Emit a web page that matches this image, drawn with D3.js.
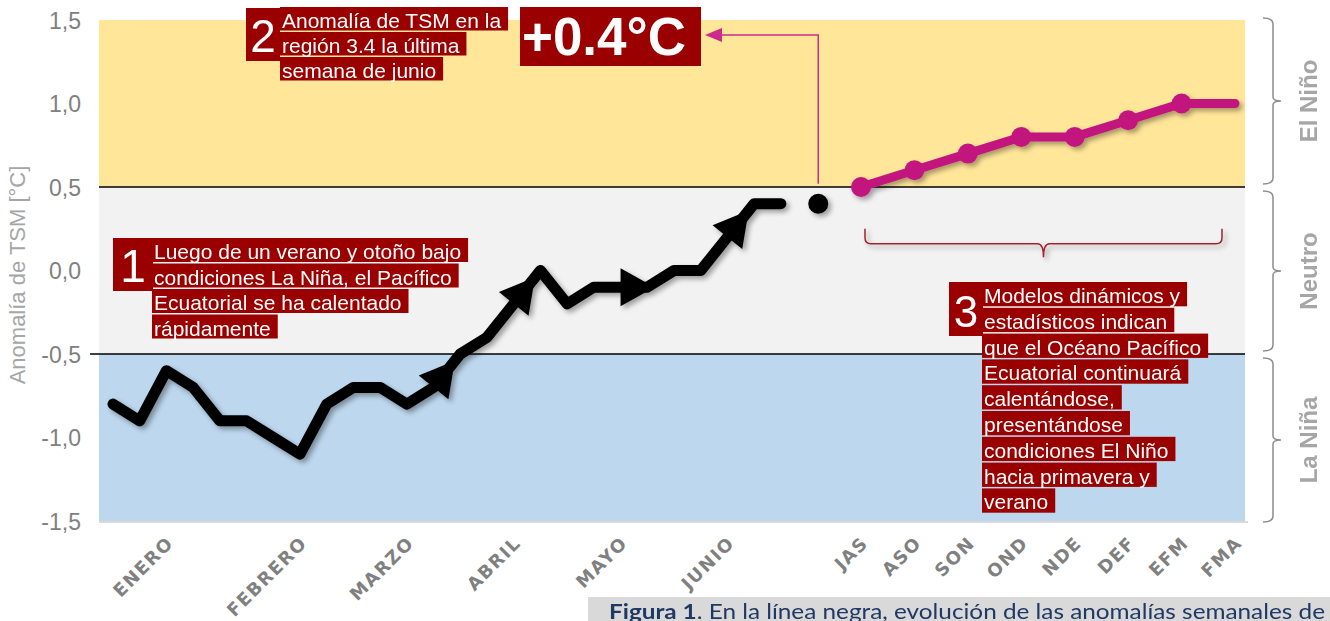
<!DOCTYPE html>
<html><head><meta charset="utf-8">
<script src="https://cdn.jsdelivr.net/npm/d3@7"></script>
<style>body{margin:0;background:#fff}svg{display:block}</style>
</head><body><svg id="c" width="1330" height="621"></svg>
<script>
// ---- data ----
const weeklyAnom = [-0.8,-0.9,-0.6,-0.7,-0.9,-0.9,-1.0,-1.1,-0.8,-0.7,-0.7,-0.8,-0.7,-0.5,-0.4,-0.2,0.0,-0.2,-0.1,-0.1,-0.1,0.0,0.0,0.2,0.4,0.4];
const arrowWeeks = [12,15,19,23];
const lastWeekPos = 26.4, lastWeekValue = 0.4;
const monthLabels = ["ENERO","FEBRERO","MARZO","ABRIL","MAYO","JUNIO"];
const monthWeeks = [2,7,11,15,19,23];
const forecastLabels = ["JAS","ASO","SON","OND","NDE","DEF","EFM","FMA"];
const forecastWeeks = [28,30,32,34,36,38,40,42];
const forecastValues = [0.5,0.6,0.7,0.8,0.8,0.9,1.0,1.0];
const yTicks = [1.5,1.0,0.5,0.0,-0.5,-1.0,-1.5];
const bands = [{lo:0.5,hi:1.5,c:"#FFE699",label:"El Niño"},{lo:-0.5,hi:0.5,c:"#F2F2F2",label:"Neutro"},{lo:-1.5,hi:-0.5,c:"#BDD7EE",label:"La Niña"}];
const note1 = ["Luego de un verano y otoño bajo","condiciones La Niña, el Pacífico","Ecuatorial se ha calentado","rápidamente"];
const note2 = ["Anomalía de TSM en la","región 3.4 la última","semana de junio"];
const note3 = ["Modelos dinámicos y","estadísticos indican","que el Océano Pacífico","Ecuatorial continuará","calentándose,","presentándose","condiciones El Niño","hacia primavera y","verano"];
const bigValue = "+0.4°C";

// ---- scales ----
const svg = d3.select("#c");
const x = d3.scaleLinear().domain([0,42]).range([113,1235]);
const y = d3.scaleLinear().domain([-1.5,1.5]).range([521,20]);
const plotL = 99, plotR = 1245;
const RED = "#9B0000", MAG = "#C2177E", GRAY = "#808080";
const SANS = "'Liberation Sans', Arial, Helvetica, sans-serif";

const defs = svg.append("defs");
const f = defs.append("filter").attr("id","sh").attr("x","-20%").attr("y","-20%").attr("width","140%").attr("height","140%");
f.append("feDropShadow").attr("dx",3).attr("dy",3).attr("stdDeviation",2.5).attr("flood-color","#000").attr("flood-opacity",0.35);

// bands
svg.selectAll("rect.band").data(bands).join("rect").attr("class","band")
  .attr("x",plotL).attr("width",plotR-plotL)
  .attr("y",d=>y(d.hi)).attr("height",d=>y(d.lo)-y(d.hi)).attr("fill",d=>d.c);
svg.append("line").attr("x1",plotL).attr("x2",plotR+3).attr("y1",y(-1.5)+1).attr("y2",y(-1.5)+1).attr("stroke","#D9D9D9").attr("stroke-width",2);
svg.selectAll("line.thr").data([0.5,-0.5]).join("line").attr("class","thr")
  .attr("x1",d=>d<0?90:plotL).attr("x2",plotR).attr("y1",d=>y(d)).attr("y2",d=>y(d))
  .attr("stroke","#000").attr("stroke-width",1.5);

// y ticks
const yAxis = d3.axisLeft(y).tickValues(yTicks).tickSize(0).tickFormat(d=>d3.format(".1f")(d).replace(".",",").replace("−","-"));
const ga = svg.append("g").attr("transform","translate(81,0)").call(yAxis);
ga.select(".domain").remove();
ga.selectAll("text").attr("x",0).attr("dy","0.36em").attr("fill",GRAY).style("font-family",SANS).style("font-size","23px");
svg.append("text").attr("transform","translate(25,275) rotate(-90)").attr("text-anchor","middle")
  .attr("fill","#A6A6A6").style("font-family",SANS).style("font-size","22px").text("Anomalía de TSM [°C]");

// x labels
const xl = svg.append("g").style("font-family","'DejaVu Sans', Verdana, sans-serif").style("font-weight","bold").style("font-size","18px").attr("fill",GRAY);
const allLabels = monthLabels.map((t,i)=>({t,w:monthWeeks[i]})).concat(forecastLabels.map((t,i)=>({t,w:forecastWeeks[i]})));
xl.selectAll("text").data(allLabels).join("text")
  .attr("transform",d=>`translate(${x(d.w)-1},${535}) rotate(-45)`)
  .attr("text-anchor","end").attr("dy","0.72em").style("letter-spacing","1.5px").text(d=>d.t);

// black line
const line = d3.line().x(d=>x(d[0])).y(d=>y(d[1]));
const wk = weeklyAnom.map((v,i)=>[i,v]);
const gb = svg.append("g").attr("filter","url(#sh)");
gb.append("path").datum(wk).attr("d",line).attr("fill","none").attr("stroke","#000").attr("stroke-width",11).attr("stroke-linejoin","round").attr("stroke-linecap","round");
gb.selectAll("path.arr").data(arrowWeeks).join("path").attr("class","arr")
  .attr("d","M0,-19 L34,0 L0,19 Z").attr("fill","#000")
  .attr("transform",i=>{const x0=x(i),y0=y(weeklyAnom[i]),x1=x(i+1),y1=y(weeklyAnom[i+1]);
    const a=Math.atan2(y1-y0,x1-x0)*180/Math.PI;return `translate(${x0},${y0}) rotate(${a})`;});
gb.append("circle").attr("cx",x(lastWeekPos)).attr("cy",y(lastWeekValue)).attr("r",10).attr("fill","#000");

// magenta forecast
const fc = forecastWeeks.map((w,i)=>[w,forecastValues[i]]);
const gm = svg.append("g").attr("filter","url(#sh)");
gm.append("path").datum(fc).attr("d",line).attr("fill","none").attr("stroke",MAG).attr("stroke-width",9).attr("stroke-linecap","round");
gm.selectAll("circle").data(fc.slice(0,7)).join("circle").attr("cx",d=>x(d[0])).attr("cy",d=>y(d[1])).attr("r",10).attr("fill",MAG);

// red brace under forecast
const bx0 = x(forecastWeeks[0])+4, bx1 = x(forecastWeeks[7])-13, bm = (bx0+bx1)/2;
const by0 = y(0.25), by1 = y(0.16), bt = y(0.08);
svg.append("path").attr("filter","url(#sh)")
  .attr("d",`M${bx0},${by0} L${bx0},${by1-6} Q${bx0},${by1} ${bx0+6},${by1} L${bm-6},${by1} Q${bm},${by1} ${bm},${bt} Q${bm},${by1} ${bm+6},${by1} L${bx1-6},${by1} Q${bx1},${by1} ${bx1},${by1-6} L${bx1},${by0}`)
  .attr("fill","none").attr("stroke","#A3202E").attr("stroke-width",1.5);

// right braces + labels
const gr = svg.append("g");
bands.forEach(b=>{
  const t=y(b.hi)-2+(b.hi===1.5?0:6), bo=y(b.lo)+1-(b.lo===-1.5?0:4), m=(t+bo)/2, xa=1263, xb=1273, xt=1281;
  gr.append("path").attr("d",`M${xa},${t} Q${xb},${t} ${xb},${t+6} L${xb},${m-4} Q${xb},${m} ${xt},${m} Q${xb},${m} ${xb},${m+4} L${xb},${bo-6} Q${xb},${bo} ${xa},${bo}`)
    .attr("fill","none").attr("stroke","#8C8C8C").attr("stroke-width",1.5);
  gr.append("text").attr("transform",`translate(1317,${m}) rotate(-90)`).attr("text-anchor","middle")
    .attr("fill","#A6A6A6").style("font-family",SANS).style("font-weight","bold").style("font-size","24px").text(b.label);
});

// annotation helper
function note(lines, tx, top, step, num, numBox, numSize){
  const g = svg.append("g").style("font-family",SANS);
  g.append("rect").attr("x",numBox[0]).attr("y",numBox[1]).attr("width",numBox[2]).attr("height",numBox[3]).attr("fill",RED);
  g.append("text").attr("x",numBox[0]+numBox[2]/2).attr("y",numBox[1]+numBox[3]-9).attr("text-anchor","middle")
    .attr("fill","#fff").style("font-size",numSize+"px").text(num);
  lines.forEach((l,i)=>{
    const r = g.append("rect").attr("fill",RED);
    const t = g.append("text").attr("x",tx).attr("y",top+i*step+21).attr("fill","#fff").style("font-size","21px").text(l);
    const w = t.node().getComputedTextLength();
    r.attr("x",tx-2).attr("y",top+i*step).attr("width",w+9).attr("height",step-1.5);
  });
}
note(note1,154,238,25.5,"1",[113,238,40,53],46);
note(note2,282,7,25,"2",[246,8,34,53],46);
note(note3,984,282,25.8,"3",[949,282,34,54],44);

// big value box
const bv = svg.append("g");
bv.append("rect").attr("x",520).attr("y",7).attr("width",181).attr("height",59).attr("fill",RED);
bv.append("text").attr("x",604).attr("y",55).attr("text-anchor","middle").attr("fill","#fff")
  .style("font-family",SANS).style("font-weight","bold").style("font-size","53px").text(bigValue);

// magenta connector
const cx = x(lastWeekPos), cTop = y(1.41);
svg.append("path").attr("d",`M${cx},${y(0.52)} L${cx},${cTop} L${720},${cTop}`).attr("fill","none").attr("stroke","#CC2A8C").attr("stroke-width",1.5);
svg.append("path").attr("d",`M705,${cTop} L722,${cTop-7} L722,${cTop+7} Z`).attr("fill","#CC2A8C");

// caption
svg.append("rect").attr("x",588).attr("y",597).attr("width",742).attr("height",30).attr("fill","#D9D9D9");
const cap = svg.append("text").attr("x",609).attr("y",619).attr("fill","#1F3864")
  .style("font-family","Lato, sans-serif").style("font-size","21px").attr("textLength",716).attr("lengthAdjust","spacingAndGlyphs");
cap.append("tspan").style("font-weight","bold").text("Figura 1");
cap.append("tspan").text(". En la línea negra, evolución de las anomalías semanales de");
</script></body></html>
